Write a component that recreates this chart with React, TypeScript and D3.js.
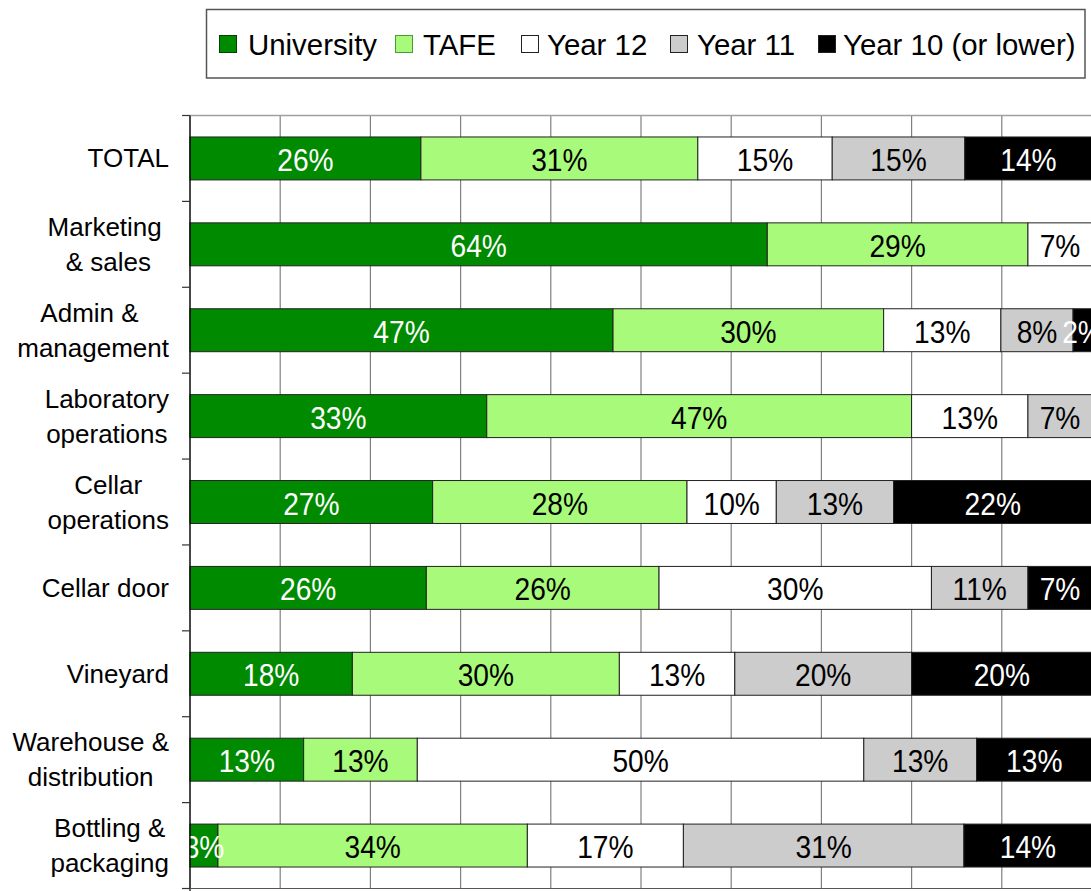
import React, { useEffect, useRef } from "react";
import * as d3 from "d3";

const categories = [
  "TOTAL",
  "Marketing \n& sales",
  "Admin & \nmanagement",
  "Laboratory\noperations",
  "Cellar\noperations",
  "Cellar door",
  "Vineyard",
  "Warehouse &\ndistribution",
  "Bottling &\npackaging",
];
const seriesNames = ["University", "TAFE", "Year 12", "Year 11", "Year 10 (or lower)"];
const university = [25.6, 64.0, 46.9, 32.9, 26.9, 26.2, 18.0, 12.6, 3.1];
const tafe = [30.7, 28.9, 30.0, 47.1, 28.2, 25.8, 29.6, 12.6, 34.3];
const year12 = [14.9, 7.1, 13.0, 12.9, 9.9, 30.2, 12.8, 49.5, 17.3];
const year11 = [14.7, 0, 8.0, 7.1, 13.0, 10.7, 19.6, 12.5, 31.1];
const year10 = [14.1, 0, 2.1, 0, 22.0, 7.1, 20.0, 12.8, 14.2];
const xTicks = [0, 10, 20, 30, 40, 50, 60, 70, 80, 90, 100];

const colors = ["#008a00", "#a8fa7a", "#ffffff", "#cccccc", "#000000"];
const labelColors = ["#ffffff", "#000000", "#000000", "#000000", "#ffffff"];

export default function App() {
  const ref = useRef<SVGSVGElement>(null);
  useEffect(() => {
    const svg = d3.select(ref.current);
    svg.selectAll("*").remove();
    const W = 1091, H = 891;
    const left = 190, right = 1092, top = 115.5, bottom = 888.5;
    const x = d3.scaleLinear().domain([0, 100]).range([left, right]);
    const y = d3.scaleBand<string>().domain(categories).range([top, bottom]).paddingInner(0.5).paddingOuter(0.25);
    const font = "'Liberation Sans', Arial, sans-serif";
    const allSeries = [university, tafe, year12, year11, year10];

    svg.append("rect").attr("width", W).attr("height", H).attr("fill", "#fff");

    const defs = svg.append("defs");
    defs.append("clipPath").attr("id", "plotclip").append("rect")
      .attr("x", left).attr("y", top).attr("width", right - left).attr("height", bottom - top);

    // gridlines
    svg.append("g").selectAll("line").data(xTicks).join("line")
      .attr("x1", d => x(d)).attr("x2", d => x(d)).attr("y1", top).attr("y2", bottom)
      .attr("stroke", "#808080").attr("stroke-width", 1.2);
    svg.append("line").attr("x1", left).attr("x2", W).attr("y1", top).attr("y2", top)
      .attr("stroke", "#a0a0a0").attr("stroke-width", 1.5);

    // bars
    const step = y.step();
    categories.forEach((c, i) => {
      let cum = 0;
      const g = svg.append("g");
      allSeries.forEach((s, k) => {
        const v = s[i];
        const x0 = cum;
        cum += v;
        if (v <= 0) return;
        g.append("rect")
          .attr("x", x(x0)).attr("y", y(c)!)
          .attr("width", x(x0 + v) - x(x0)).attr("height", y.bandwidth())
          .attr("fill", colors[k]).attr("stroke", "#222").attr("stroke-width", 1);
      });
    });
    // labels
    const lg = svg.append("g").attr("clip-path", "url(#plotclip)");
    categories.forEach((c, i) => {
      let cum = 0;
      allSeries.forEach((s, k) => {
        const v = s[i];
        const x0 = cum;
        cum += v;
        if (v <= 0) return;
        const cx = x(x0 + v / 2);
        const cy = y(c)! + y.bandwidth() / 2 + 12.5;
        lg.append("text")
          .attr("transform", `translate(${cx},${cy}) scale(0.88,1)`)
          .attr("text-anchor", "middle")
          .attr("font-family", font).attr("font-size", 32)
          .attr("fill", labelColors[k])
          .text(Math.round(v) + "%");
      });
    });

    // left axis
    svg.append("line").attr("x1", left).attr("x2", left).attr("y1", top).attr("y2", bottom + 3)
      .attr("stroke", "#000").attr("stroke-width", 1.2);
    svg.append("line").attr("x1", left).attr("x2", W).attr("y1", bottom).attr("y2", bottom)
      .attr("stroke", "#555").attr("stroke-width", 1);
    const boundaries = d3.range(categories.length + 1).map(i => top + i * step);
    svg.append("g").selectAll("line").data(boundaries).join("line")
      .attr("x1", left - 8).attr("x2", left).attr("y1", d => d).attr("y2", d => d)
      .attr("stroke", "#333").attr("stroke-width", 1.2);

    // category labels
    const catRight = 169;
    categories.forEach(c => {
      const lines = c.split("\n");
      const cy = y(c)! + y.bandwidth() / 2;
      const g = svg.append("g");
      const texts = lines.map((ln, j) => {
        const by = cy + 9 + (j - (lines.length - 1) / 2) * 35;
        return g.append("text").attr("y", by).attr("font-family", font).attr("font-size", 26)
          .style("white-space", "pre")
          .attr("fill", "#000").attr("text-anchor", "middle").text(ln);
      });
      const widths = texts.map(t => (t.node() as SVGTextElement).getComputedTextLength());
      const maxW = d3.max(widths) || 0;
      texts.forEach(t => t.attr("x", catRight - maxW / 2));
    });

    // legend
    const legX = [219, 395, 521, 670, 818];
    const textX = [248, 423, 547, 697, 843];
    const leg = svg.append("g");
    leg.append("rect").attr("x", 206.5).attr("y", 9.5).attr("width", 878.5).attr("height", 68.5)
      .attr("fill", "#fff").attr("stroke", "#555").attr("stroke-width", 1.5);
    seriesNames.forEach((n, k) => {
      leg.append("rect").attr("x", legX[k] + 0.5).attr("y", 35.5).attr("width", 17).attr("height", 17)
        .attr("fill", colors[k]).attr("stroke", k === 0 ? "#004400" : k === 1 ? "#4a9a30" : "#222").attr("stroke-width", 1);
      leg.append("text")
        .attr("transform", `translate(${textX[k]},55) scale(0.98,1)`)
        .attr("font-family", font).attr("font-size", 30).attr("fill", "#000").text(n);
    });
  }, []);
  return (
    <svg ref={ref} width={1091} height={891}
      style={{ position: "absolute", left: 0, top: 0, display: "block" }} />
  );
}
